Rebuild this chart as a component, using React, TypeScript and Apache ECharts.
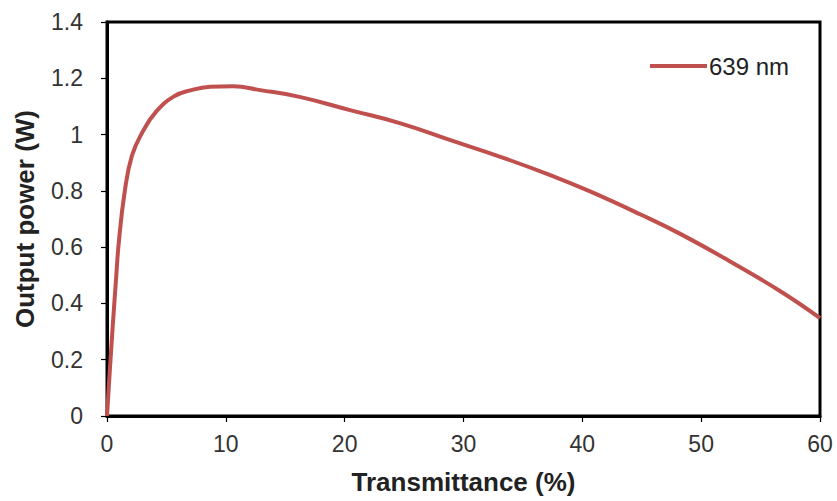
import React, { useEffect, useRef } from "react";
import * as echarts from "echarts";

const transmittance = [0, 0.25, 0.5, 0.75, 1.0, 1.5, 2.1, 3.0, 4.1, 5.6, 7.1, 8.67, 10.6, 12.9, 16.2, 20.45, 24.7, 28.9, 33.1, 37.3, 40.7, 44.9, 48.2, 52.4, 56.6, 60];
const outputPower = [0, 0.17, 0.33, 0.48, 0.62, 0.8, 0.925, 1.01, 1.08, 1.135, 1.158, 1.17, 1.172, 1.158, 1.134, 1.087, 1.04, 0.98, 0.921, 0.856, 0.797, 0.716, 0.648, 0.55, 0.445, 0.348];
const seriesName = "639 nm";
const xTicks = [0, 10, 20, 30, 40, 50, 60];

export default function App() {
  const ref = useRef<HTMLDivElement>(null);
  useEffect(() => {
    if (!ref.current) return;
    const chart = echarts.init(ref.current, null, { renderer: "svg" });
    const font = "Liberation Sans, Arial, sans-serif";
    chart.setOption({
      animation: false,
      backgroundColor: "#ffffff",
      grid: {
        left: 107,
        right: 17,
        top: 22,
        bottom: 85,
        show: true,
        borderColor: "#000",
        borderWidth: 3,
        backgroundColor: "transparent",
      },
      legend: {
        left: 650,
        top: 54,
        padding: 0,
        itemWidth: 57,
        itemHeight: 4,
        itemGap: 0,
        textStyle: { fontFamily: font, fontSize: 24, color: "#222", padding: [0, 0, 0, -3] },
        data: [{ name: seriesName, icon: "rect", itemStyle: { color: "#c0504d" } }],
      },
      xAxis: {
        type: "value",
        min: 0,
        max: 60,
        interval: 10,
        name: "Transmittance (%)",
        nameLocation: "middle",
        nameGap: 53,
        nameTextStyle: { fontFamily: font, fontSize: 26, fontWeight: "bold", color: "#222" },
        axisLine: { show: true, lineStyle: { color: "#000", width: 3 } },
        axisTick: { show: true, length: 6, lineStyle: { color: "#000", width: 1.2 } },
        axisLabel: {
          fontFamily: font,
          fontSize: 23,
          color: "#333",
          margin: 16,
          formatter: (v: number) => (xTicks.includes(v) ? String(v) : ""),
        },
        splitLine: { show: false },
      },
      yAxis: {
        type: "value",
        min: 0,
        max: 1.4,
        interval: 0.2,
        name: "Output power (W)",
        nameLocation: "middle",
        nameGap: 69,
        nameTextStyle: { fontFamily: font, fontSize: 26, fontWeight: "bold", color: "#222" },
        axisLine: { show: true, lineStyle: { color: "#000", width: 3 } },
        axisTick: { show: true, length: 6, lineStyle: { color: "#000", width: 1.2 } },
        axisLabel: {
          fontFamily: font,
          fontSize: 23,
          color: "#333",
          margin: 24,
          formatter: (v: number) => String(Math.round(v * 10) / 10),
        },
        splitLine: { show: false },
      },
      series: [
        {
          name: seriesName,
          type: "line",
          data: transmittance.map((x, i) => [x, outputPower[i]]),
          smooth: 0.45,
          symbol: "none",
          clip: false,
          lineStyle: { color: "#c0504d", width: 4 },
          itemStyle: { color: "#c0504d" },
        },
      ],
    });
    return () => chart.dispose();
  }, []);
  return (
    <div
      ref={ref}
      style={{ position: "absolute", left: 0, top: 0, width: 837, height: 501 }}
    />
  );
}
